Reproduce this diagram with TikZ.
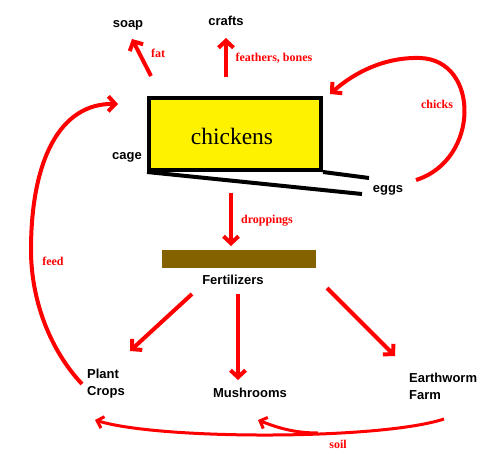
\documentclass[tikz,border=0pt]{standalone}
\usepackage{fontspec}
\setmainfont{Liberation Sans}
\newfontfamily\serfont{Liberation Serif}
\usetikzlibrary{arrows.meta}
\definecolor{fertcol}{RGB}{132,98,0}
\begin{document}
\begin{tikzpicture}[x=1pt,y=-1pt,
  lbl/.style={font=\bfseries\fontsize{13}{17}\selectfont, inner sep=0pt, align=left},
  rlbl/.style={font=\serfont\bfseries\fontsize{12}{14}\selectfont, text=red, inner sep=0pt},
  flow/.style={draw=red, line width=4pt, line cap=butt,
    -{Straight Barb[length=7pt,width=15pt]}},
  thinflow/.style={draw=red, line width=3pt,
    -{Straight Barb[length=6pt,width=12pt]}},
  cagebar/.style={draw=black, line width=4pt}
]
\useasboundingbox (0,0) rectangle (496,469);

% chickens box
\node[draw=black, line width=4pt, fill=yellow, minimum width=172pt, minimum height=72pt, inner sep=0pt] (chk) at (235,134) {};
\node[font=\serfont\fontsize{23.5}{26}\selectfont, inner sep=0pt] (chktxt) at (232,136) {chickens};
\node[lbl] (cage) at (127,157) {cage};
\node[lbl] (eggs) at (388,190) {eggs};
\coordinate (floorA) at (362,194);
\coordinate (floorB) at (369,178);
\draw[cagebar] (chk.south west) -- (floorA);
\draw[cagebar] (chk.south east) -- (floorB);

% top products
\node[lbl] (soap) at (128,25) {soap};
\node[lbl] (crafts) at (226,21) {crafts};
\coordinate (fatS) at (151,76);
\coordinate (fatE) at (132,39);
\draw[flow] (fatS) -- (fatE);
\node[rlbl] (fat) at (158,53) {fat};
\coordinate (ftS) at (226,77);
\coordinate (ftE) at (226,38);
\draw[flow] (ftS) -- (ftE);
\node[rlbl] (fb) at (274,58) {feathers, bones};

% chicks loop
\coordinate (chS) at (416,180);
\coordinate (chM) at (420,58);
\coordinate (chE) at (330,94);
\draw[flow] (chS) .. controls (480,160) and (480,60) .. (chM) .. controls (385,57) and (355,72) .. (chE);
\node[rlbl] (chicks) at (437,104) {chicks};

% droppings
\coordinate (drS) at (231,193);
\coordinate (drE) at (231,246);
\draw[flow] (drS) -- (drE);
\node[rlbl] (dropl) at (267,221) {droppings};

% fertilizers
\node[fill=fertcol, minimum width=154pt, minimum height=18pt, inner sep=0pt] (fert) at (239,259) {};
\node[lbl] (ferttxt) at (233,280) {Fertilizers};

% outputs
\node[lbl, anchor=west] (plant) at (87,384) {Plant\\Crops};
\node[lbl] (mush) at (250,393) {Mushrooms};
\node[lbl, anchor=west] (worm) at (409,386) {Earthworm\\Farm};

\coordinate (f1S) at (192,294);
\coordinate (f1E) at (130,351);
\draw[flow] (f1S) -- (f1E);
\coordinate (f2S) at (238,294);
\coordinate (f2E) at (238,380);
\draw[flow] (f2S) -- (f2E);
\coordinate (f3S) at (327,288);
\coordinate (f3E) at (395,356);
\draw[flow] (f3S) -- (f3E);

% feed loop
\coordinate (fdS) at (82,384);
\coordinate (fdM) at (31,250);
\coordinate (fdE) at (118,104);
\draw[flow] (fdS) .. controls (50,350) and (31,300) .. (fdM) .. controls (31,160) and (60,103) .. (fdE);
\node[rlbl] (feed) at (53,261) {feed};

% soil
\coordinate (slS) at (444,419);
\coordinate (slE) at (95,420);
\coordinate (slB) at (318,433);
\coordinate (slE2) at (258,420);
\draw[thinflow] (slS) .. controls (380,440) and (160,440) .. (slE);
\draw[thinflow] (slB) .. controls (295,433) and (278,428) .. (slE2);
\node[rlbl] (soil) at (338,444) {soil};
\end{tikzpicture}
\end{document}
